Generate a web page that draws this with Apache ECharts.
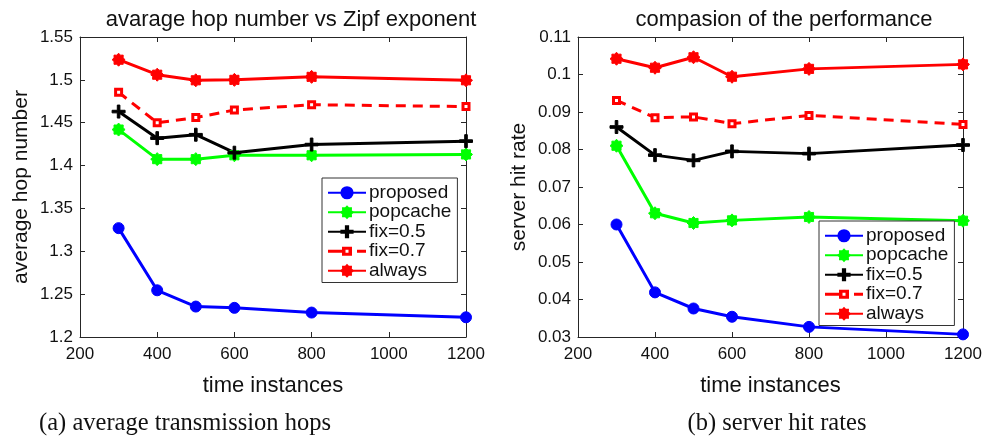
<!DOCTYPE html>
<html>
<head>
<meta charset="utf-8">
<script src="https://cdn.jsdelivr.net/npm/echarts@6/dist/echarts.min.js"></script>
<style>
html,body{margin:0;padding:0;background:#fff;}
#chart{width:995px;height:446px;}
</style>
</head>
<body>
<div id="chart"></div>
<script>
// ---- data ----
const timeInstances = [300, 400, 500, 600, 800, 1200];
const seriesNames = ['proposed', 'popcache', 'fix=0.5', 'fix=0.7', 'always'];

// (a) average hop number
const hopProposed = [1.327, 1.2545, 1.2355, 1.234, 1.2285, 1.223];
const hopPopcache = [1.442, 1.4075, 1.4075, 1.412, 1.412, 1.413];
const hopFix05   = [1.463, 1.432, 1.436, 1.415, 1.4245, 1.4285];
const hopFix07   = [1.4855, 1.450, 1.456, 1.4648, 1.471, 1.4688];
const hopAlways  = [1.5235, 1.506, 1.4995, 1.500, 1.5035, 1.4995];

// (b) server hit rate
const hitProposed = [0.0600, 0.0419, 0.0376, 0.0354, 0.0327, 0.0307];
const hitPopcache = [0.0810, 0.0630, 0.0604, 0.0611, 0.0620, 0.0610];
const hitFix05    = [0.0860, 0.0785, 0.0771, 0.0795, 0.0789, 0.0812];
const hitFix07    = [0.0931, 0.0885, 0.0887, 0.0869, 0.0891, 0.0867];
const hitAlways   = [0.1042, 0.1018, 0.1046, 0.0994, 0.1015, 0.1027];

const xTicks = [200, 400, 600, 800, 1000, 1200];

// ---- styling helpers ----
const FONT = 'Liberation Sans, Arial, Helvetica, sans-serif';
const AX = '#262626';
const plusPath = 'path://M4,0h2v4h4v2h-4v4h-2v-4h-4v-2h4z';
function starPath() {
  const n = 8, pts = [];
  for (let i = 0; i < 2 * n; i++) {
    const r = i % 2 === 0 ? 10 : 7.5;
    const a = Math.PI * i / n;
    pts.push((10 + r * Math.sin(a)).toFixed(2) + ',' + (10 - r * Math.cos(a)).toFixed(2));
  }
  return 'path://M' + pts.join('L') + 'Z';
}
const starP = starPath();
// legend icon for the dashed line with small square marker
const dashSquareIcon = 'path://M0,5.5h14v3h-14zM14,2.5h10v9h-10zM17.5,5.5v3h3v-3zM29,5.5h9v3h-9z';

const styles = {
  'proposed': {color: '#0000FF', symbol: 'circle', size: 11, dash: 'solid', fill: '#0000FF'},
  'popcache': {color: '#00FF00', symbol: starP, size: 13, dash: 'solid', fill: '#00FF00'},
  'fix=0.5':  {color: '#000000', symbol: plusPath, size: 13, dash: 'solid', fill: '#000000'},
  'fix=0.7':  {color: '#FF0000', symbol: 'rect', size: 6, dash: [10, 7], fill: '#FFFFFF'},
  'always':   {color: '#FF0000', symbol: starP, size: 13, dash: 'solid', fill: '#FF0000'}
};

function mkSeries(name, vals, gi) {
  const s = styles[name];
  return {
    name: name, type: 'line',
    xAxisIndex: gi * 2, yAxisIndex: gi * 2,
    data: timeInstances.map((t, i) => [t, vals[i]]),
    symbol: s.symbol, symbolSize: s.size, showAllSymbol: true,
    lineStyle: {color: s.color, width: 3, type: s.dash},
    itemStyle: {color: s.fill, borderColor: s.color, borderWidth: name === 'fix=0.7' ? 3 : 1},
    emphasis: {disabled: true},
    animation: false
  };
}

const yFmt = v => String(+(+v).toFixed(4));
const xFmt = v => String(Math.round(v));

function xAxes(gi) {
  return [
    {gridIndex: gi, type: 'value', min: 200, max: 1200, interval: 200, position: 'bottom',
     axisLine: {show: true, lineStyle: {color: AX, width: 1}},
     axisTick: {show: true, inside: true, length: 5, lineStyle: {color: AX}},
     axisLabel: {color: '#111', fontFamily: FONT, fontSize: 17, margin: 9, formatter: xFmt},
     splitLine: {show: false},
     name: 'time instances', nameLocation: 'middle', nameGap: 38,
     nameTextStyle: {color: '#111', fontFamily: FONT, fontSize: 22}},
    {gridIndex: gi, type: 'value', min: 200, max: 1200, interval: 200, position: 'top',
     axisLine: {show: true, lineStyle: {color: AX, width: 1}},
     axisTick: {show: true, inside: true, length: 5, lineStyle: {color: AX}},
     axisLabel: {show: false}, splitLine: {show: false}}
  ];
}
function yAxes(gi, min, max, interval, name) {
  return [
    {gridIndex: gi, type: 'value', min: min, max: max, interval: interval, position: 'left',
     axisLine: {show: true, lineStyle: {color: AX, width: 1}},
     axisTick: {show: true, inside: true, length: 5, lineStyle: {color: AX}},
     axisLabel: {color: '#111', fontFamily: FONT, fontSize: 17, margin: 7, formatter: yFmt},
     splitLine: {show: false},
     name: name, nameLocation: 'middle', nameGap: 48,
     nameTextStyle: {color: '#111', fontFamily: FONT, fontSize: 21}},
    {gridIndex: gi, type: 'value', min: min, max: max, interval: interval, position: 'right',
     axisLine: {show: true, lineStyle: {color: AX, width: 1}},
     axisTick: {show: true, inside: true, length: 5, lineStyle: {color: AX}},
     axisLabel: {show: false}, splitLine: {show: false}}
  ];
}

function legend(left, top) {
  return {
    data: seriesNames.map(n => n === 'fix=0.7'
      ? {name: n, icon: dashSquareIcon, itemStyle: {color: '#FF0000', borderWidth: 0}}
      : {name: n}),
    left: left, top: top, orient: 'vertical',
    backgroundColor: '#fff', borderColor: '#333', borderWidth: 1,
    padding: [5, 6, 2, 5], itemGap: 0, itemWidth: 38, itemHeight: 14,
    textStyle: {fontFamily: FONT, fontSize: 19, color: '#111', lineHeight: 19.5, padding: [0, 0, 0, -2]},
    selectedMode: false
  };
}

const option = {
  animation: false,
  backgroundColor: '#fff',
  title: [
    {text: 'avarage hop number vs Zipf exponent', left: 286, top: 4, textAlign: 'center',
     textStyle: {fontFamily: FONT, fontSize: 22, fontWeight: 'normal', color: '#111'}},
    {text: 'compasion of the performance', left: 779, top: 4, textAlign: 'center',
     textStyle: {fontFamily: FONT, fontSize: 22, fontWeight: 'normal', color: '#111'}}
  ],
  grid: [
    {left: 80, top: 37, width: 386, height: 300, containLabel: false},
    {left: 578, top: 37, width: 385, height: 300, containLabel: false}
  ],
  xAxis: [...xAxes(0), ...xAxes(1)],
  yAxis: [...yAxes(0, 1.2, 1.55, 0.05, 'average hop number'), ...yAxes(1, 0.03, 0.11, 0.01, 'server hit rate')],
  legend: [legend(322, 178), legend(819, 221)],
  series: [
    mkSeries('proposed', hopProposed, 0),
    mkSeries('popcache', hopPopcache, 0),
    mkSeries('fix=0.5', hopFix05, 0),
    mkSeries('fix=0.7', hopFix07, 0),
    mkSeries('always', hopAlways, 0),
    mkSeries('proposed', hitProposed, 1),
    mkSeries('popcache', hitPopcache, 1),
    mkSeries('fix=0.5', hitFix05, 1),
    mkSeries('fix=0.7', hitFix07, 1),
    mkSeries('always', hitAlways, 1)
  ],
  graphic: [
    {type: 'text', x: 185, y: 424, style: {text: '(a) average transmission hops', fontFamily: 'Liberation Serif, serif', fontSize: 24.5, fill: '#111', textAlign: 'center', textVerticalAlign: 'middle'}},
    {type: 'text', x: 777, y: 424, style: {text: '(b) server hit rates', fontFamily: 'Liberation Serif, serif', fontSize: 24.5, fill: '#111', textAlign: 'center', textVerticalAlign: 'middle'}}
  ]
};

const chart = echarts.init(document.getElementById('chart'), null, {renderer: 'canvas'});
chart.setOption(option);
</script>
</body>
</html>
